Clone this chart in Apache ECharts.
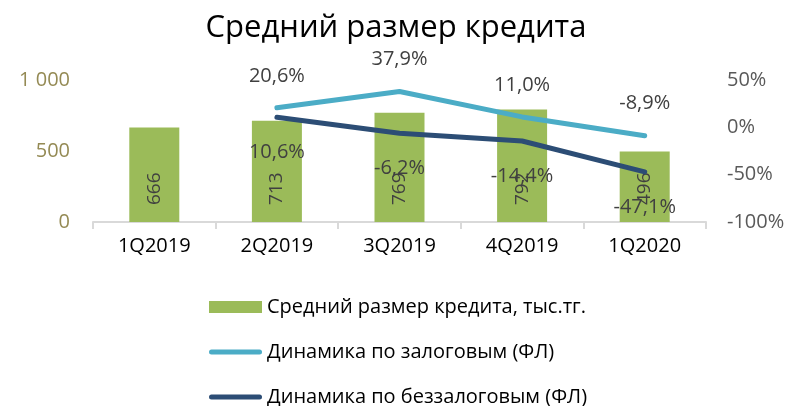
<!DOCTYPE html>
<html>
<head>
<meta charset="utf-8">
<script src="https://cdn.jsdelivr.net/npm/echarts@6/dist/echarts.min.js"></script>
<style>html,body{margin:0;padding:0;background:#fff}#c{width:792px;height:406px}</style>
</head>
<body>
<div id="c"></div>
<script>
const categories = ['1Q2019', '2Q2019', '3Q2019', '4Q2019', '1Q2020'];
const avgLoan = [666, 713, 769, 792, 496];
const securedDyn = [null, 20.6, 37.9, 11.0, -8.9];
const unsecuredDyn = [null, 10.6, -6.2, -14.4, -47.1];
const leftTicks = [0, 500, 1000];
const rightTicks = [-100, -50, 0, 50];

const FONT = '"Open Sans", "Noto Sans", sans-serif';
const chart = echarts.init(document.getElementById('c'));
const pct = v => (v == null ? '' : Number(v).toFixed(1).replace('.', ',') + '%');
const LINE_ICON = 'path://M2.5,0 L50.5,0 A2.5,2.5 0 0 1 50.5,5 L2.5,5 A2.5,2.5 0 0 1 2.5,0 Z';

chart.setOption({
  animation: false,
  textStyle: { fontFamily: FONT },
  title: {
    text: 'Средний размер кредита',
    left: 'center', top: 8,
    textStyle: { fontFamily: FONT, fontSize: 31, fontWeight: 'normal', color: '#000' }
  },
  grid: { left: 93, right: 86, top: 80, bottom: 184 },
  legend: {
    orient: 'vertical', left: 204, top: 292, height: 140,
    itemWidth: 53, itemHeight: 12, itemGap: 25,
    textStyle: { fontFamily: FONT, fontSize: 20, color: '#000' },
    data: [
      { name: 'Средний размер кредита, тыс.тг.', icon: 'rect' },
      { name: 'Динамика по залоговым (ФЛ)', icon: LINE_ICON },
      { name: 'Динамика по беззалоговым (ФЛ)', icon: LINE_ICON }
    ]
  },
  xAxis: {
    type: 'category', data: categories,
    axisLine: { lineStyle: { color: '#d9d9d9', width: 2 } },
    axisTick: { show: true, length: 7, lineStyle: { color: '#d9d9d9', width: 2 } },
    axisLabel: { color: '#000', fontSize: 20, margin: 14, fontFamily: FONT }
  },
  yAxis: [
    {
      type: 'value', min: leftTicks[0], max: leftTicks[leftTicks.length - 1], interval: 500,
      splitLine: { show: false }, axisLine: { show: false }, axisTick: { show: false },
      axisLabel: {
        color: '#948A54', fontSize: 20, margin: 23, fontFamily: FONT,
        formatter: v => String(v).replace(/\B(?=(\d{3})+(?!\d))/g, ' ')
      }
    },
    {
      type: 'value', min: rightTicks[0], max: rightTicks[rightTicks.length - 1], interval: 50,
      splitLine: { show: false }, axisLine: { show: false }, axisTick: { show: false },
      axisLabel: { color: '#595959', fontSize: 20, margin: 21, fontFamily: FONT, formatter: v => v + '%' }
    }
  ],
  series: [
    {
      name: 'Средний размер кредита, тыс.тг.', type: 'bar', data: avgLoan,
      barWidth: 50, itemStyle: { color: '#9BBB59' },
      label: {
        show: true, position: 'insideBottom', rotate: 90, distance: 17,
        align: 'left', verticalAlign: 'middle',
        color: '#404040', fontSize: 19, fontFamily: FONT
      }
    },
    {
      name: 'Динамика по залоговым (ФЛ)', type: 'line', yAxisIndex: 1, data: securedDyn,
      symbol: 'circle', symbolSize: 0, showSymbol: true,
      lineStyle: { color: '#4BACC6', width: 5, cap: 'round', join: 'round' }, itemStyle: { color: '#4BACC6' },
      label: { show: true, position: 'top', distance: 22, color: '#404040', fontSize: 20, fontFamily: FONT,
        formatter: p => pct(p.value) }
    },
    {
      name: 'Динамика по беззалоговым (ФЛ)', type: 'line', yAxisIndex: 1, data: unsecuredDyn,
      symbol: 'circle', symbolSize: 0, showSymbol: true,
      lineStyle: { color: '#2C4D75', width: 5, cap: 'round', join: 'round' }, itemStyle: { color: '#2C4D75' },
      label: { show: true, position: 'bottom', distance: 25, color: '#404040', fontSize: 20, fontFamily: FONT,
        formatter: p => pct(p.value) }
    }
  ]
});
</script>
</body>
</html>
